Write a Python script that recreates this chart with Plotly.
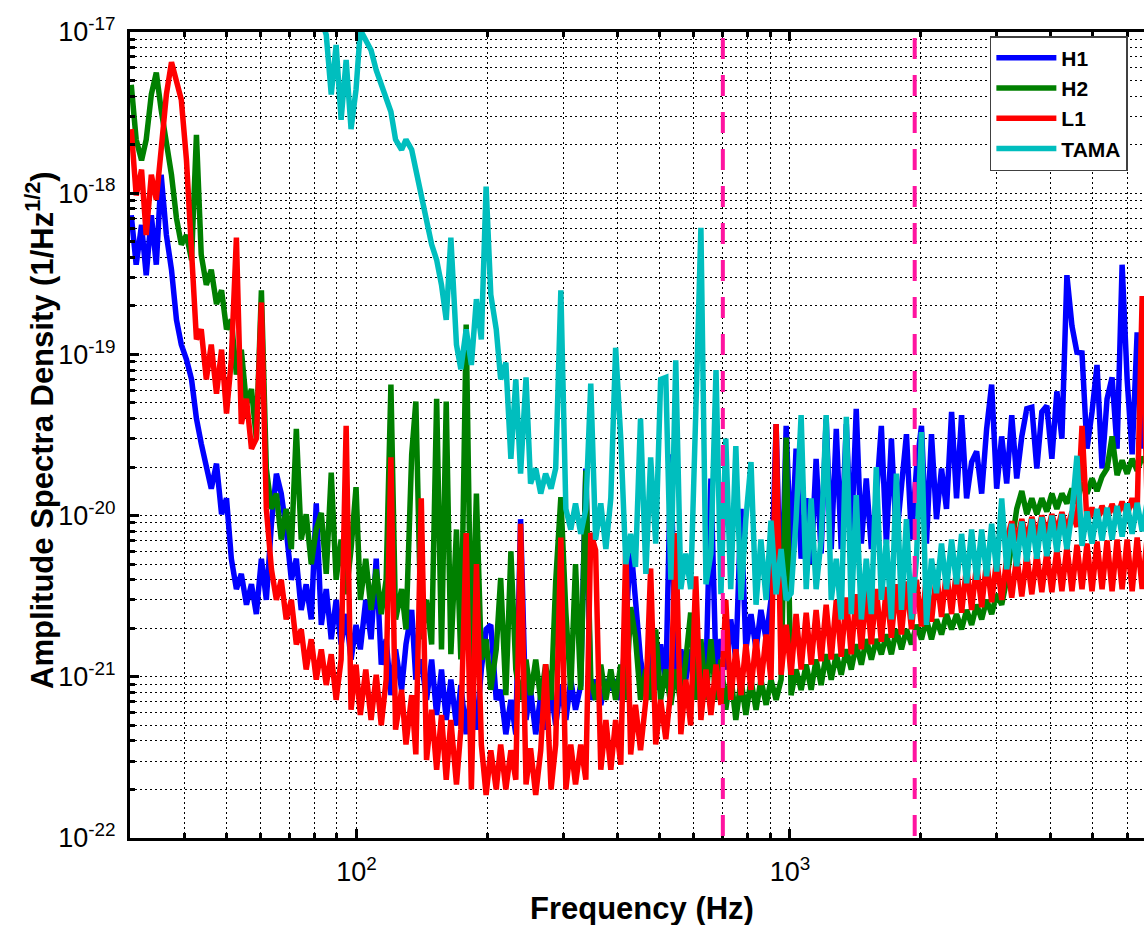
import numpy as np
import plotly.graph_objects as go

# ---------------- data ----------------
freq_hz = [
    30.2, 31.0, 31.9, 32.7, 33.6, 34.5, 35.4, 36.4, 37.4, 38.4,
    39.4, 40.5, 41.6, 42.7, 43.8, 45.0, 46.2, 47.5, 48.8, 50.1,
    51.4, 52.8, 54.2, 55.7, 57.2, 58.7, 60.3, 61.9, 63.6, 65.3,
    67.0, 68.8, 70.7, 72.6, 74.5, 76.5, 78.6, 80.7, 82.9, 85.1,
    87.4, 89.7, 92.1, 94.6, 97.1, 99.7, 102, 105, 108, 111,
    114, 117, 120, 123, 127, 130, 134, 137, 141, 145,
    149, 153, 157, 161, 165, 170, 174, 179, 184, 189,
    194, 199, 204, 210, 215, 221, 227, 233, 239, 246,
    252, 259, 266, 273, 281, 288, 296, 304, 312, 320,
    329, 338, 347, 356, 366, 376, 386, 396, 407, 418,
    429, 440, 452, 465, 477, 490, 503, 517, 531, 545,
    560, 575, 590, 606, 623, 640, 657, 675, 693, 711,
    730, 750, 771, 791, 813, 835, 857, 881, 904, 929,
    954, 980, 1006, 1033, 1061, 1090, 1119, 1149, 1180, 1212,
    1245, 1279, 1313, 1349, 1385, 1422, 1461, 1500, 1541, 1582,
    1625, 1669, 1714, 1760, 1808, 1857, 1907, 1958, 2011, 2065,
    2121, 2178, 2237, 2297, 2360, 2423, 2489, 2556, 2625, 2696,
    2769, 2843, 2920, 2999, 3080, 3163, 3249, 3336, 3427, 3519,
    3615, 3712, 3812, 3915, 4021, 4129, 4241, 4355, 4474, 4594,
    4719, 4846, 4977, 5111, 5250, 5391, 5537, 5686, 5840, 5998,
    6160, 6326, 6497, 6672,
]

h1_asd = [
    7.3e-19, 3.6e-19, 6.35e-19, 3.1e-19, 7.3e-19, 3.6e-19, 1.3e-18, 5.5e-19, 3.35e-19, 1.64e-19,
    1.15e-19, 9.3e-20, 7.0e-20, 4.0e-20, 2.8e-20, 1.96e-20, 1.47e-20, 2.1e-20, 1.02e-20, 1.28e-20,
    5.4e-21, 3.5e-21, 4.35e-21, 2.8e-21, 3.75e-21, 2.45e-21, 5.4e-21, 3.0e-21, 8.9e-21, 1.82e-20,
    1.37e-20, 8.2e-21, 4.0e-21, 5.4e-21, 2.6e-21, 3.75e-21, 2.27e-21, 1.19e-20, 2.1e-21, 3.5e-21,
    1.71e-21, 3.0e-21, 1.59e-21, 2.45e-21, 1.28e-21, 2.1e-21, 1.48e-21, 3.0e-21, 1.71e-21, 5.4e-21,
    1.19e-21, 1.71e-21, 7.7e-22, 1.48e-21, 8.3e-22, 1.59e-21, 2.6e-21, 9.6e-22, 1.28e-21, 7.2e-22,
    1.28e-21, 5.8e-22, 1.11e-21, 5.4e-22, 9.6e-22, 5.0e-22, 8.9e-22, 4.4e-22, 8.3e-22, 4.7e-22,
    1.11e-21, 1.97e-21, 2.1e-21, 7.2e-22, 8.3e-22, 4.4e-22, 7.2e-22, 4.4e-22, 9.5e-21, 5.4e-22,
    8.3e-22, 4.4e-22, 7.7e-22, 4.7e-22, 8.3e-22, 5.0e-22, 8.9e-22, 5.4e-22, 9.6e-22, 6.25e-22,
    8.9e-22, 1.96e-20, 7.2e-22, 9.6e-22, 6.7e-22, 9.6e-22, 8.3e-22, 9.6e-22, 7.2e-22, 1.97e-21,
    6.7e-21, 3.0e-21, 1.28e-21, 8.3e-22, 1.48e-21, 8.3e-22, 1.59e-21, 8.9e-22, 2.4e-20, 9.6e-22,
    1.48e-21, 9.6e-22, 1.48e-21, 9.6e-22, 1.48e-21, 1.03e-21, 1.7e-20, 1.11e-21, 1.71e-21, 1.11e-21,
    2.27e-21, 1.28e-21, 1.1e-20, 1.48e-21, 2.45e-21, 1.48e-21, 2.6e-21, 1.71e-21, 3.0e-21, 3.7e-20,
    2.27e-21, 3.6e-20, 5.4e-21, 2.6e-20, 5.4e-21, 1.28e-20, 5.0e-21, 2.25e-20, 5.8e-21, 4.0e-20,
    6.2e-21, 3.45e-20, 6.2e-21, 3.7e-20, 6.7e-21, 4.6e-20, 6.7e-21, 1.7e-20, 6.2e-21, 1.28e-20,
    3.6e-20, 6.7e-21, 3.0e-20, 7.1e-21, 1.7e-20, 3.2e-20, 7.1e-21, 1.96e-20, 3.6e-20, 6.7e-21,
    3.2e-20, 9.5e-21, 1.96e-20, 1.1e-20, 4.4e-20, 1.28e-20, 4.2e-20, 1.28e-20, 2.15e-20, 2.5e-20,
    1.37e-20, 3.45e-20, 6.5e-20, 1.47e-20, 3.1e-20, 1.58e-20, 4.2e-20, 1.7e-20, 3.1e-20, 4.6e-20,
    4.7e-20, 1.96e-20, 4.4e-20, 4.8e-20, 2.25e-20, 5.9e-20, 3.0e-20, 3.1e-19, 1.5e-19, 1.03e-19,
    1.02e-19, 2.6e-20, 4.4e-20, 8.6e-20, 1.96e-20, 5.3e-20, 7.2e-20, 2.6e-20, 3.6e-19, 7.0e-20,
    2.4e-20, 1.37e-19, 2.6e-20, 1.12e-19,
]

h2_asd = [
    4.7e-18, 2.15e-18, 1.6e-18, 2.15e-18, 4.1e-18, 5.6e-18, 3.3e-18, 2.15e-18, 1.3e-18, 7.0e-19,
    4.8e-19, 5.5e-19, 3.86e-19, 2.3e-18, 4.15e-19, 2.7e-19, 3.35e-19, 2.05e-19, 2.5e-19, 1.43e-19,
    1.64e-19, 7.5e-20, 1.07e-19, 4.9e-20, 6.1e-20, 3.0e-20, 2.5e-19, 1.96e-20, 1.1e-20, 1.37e-20,
    7.1e-21, 1.1e-20, 6.2e-21, 3.45e-20, 7.1e-21, 1.02e-20, 5.0e-21, 8.2e-21, 1.04e-20, 4.35e-21,
    1.85e-20, 4.0e-21, 7.1e-21, 3.25e-21, 6.2e-21, 1.5e-20, 3.0e-21, 5.4e-21, 2.6e-21, 4.65e-21,
    2.45e-21, 4.0e-21, 6.5e-20, 2.27e-21, 3.5e-21, 1.97e-21, 2.4e-20, 5.1e-20, 1.71e-21, 3.0e-21,
    1.59e-21, 5.3e-20, 1.48e-21, 5.1e-20, 1.38e-21, 8.2e-21, 1.28e-21, 1.53e-19, 1.19e-21, 1.37e-20,
    1.28e-21, 1.71e-21, 8.3e-22, 1.48e-21, 4.1e-21, 7.7e-22, 6.0e-21, 1.11e-21, 7.2e-22, 1.28e-21,
    7.7e-22, 1.28e-21, 7.2e-22, 1.19e-21, 7.2e-22, 3.9e-21, 1.3e-20, 2.5e-21, 8.3e-22, 5.0e-21,
    8.3e-22, 1.9e-20, 9.6e-22, 7.2e-22, 1.19e-21, 7.2e-22, 1.11e-21, 7.2e-22, 1.19e-21, 7.2e-22,
    2.7e-21, 1.75e-21, 7.2e-22, 1.11e-21, 7.2e-22, 1.97e-21, 7.2e-22, 1.11e-21, 6.7e-22, 1.11e-21,
    6.7e-22, 1.28e-21, 2.5e-21, 7.2e-22, 1.71e-21, 7.2e-22, 1.71e-21, 7.2e-22, 1.28e-21, 6.25e-22,
    1.03e-21, 5.4e-22, 9.6e-22, 5.8e-22, 9.6e-22, 6.25e-22, 9.6e-22, 6.7e-22, 9.6e-22, 7.2e-22,
    9.6e-22, 3.05e-20, 7.7e-22, 1.11e-21, 8.3e-22, 1.19e-21, 8.3e-22, 1.28e-21, 8.9e-22, 1.38e-21,
    9.6e-22, 1.38e-21, 1.03e-21, 1.48e-21, 1.11e-21, 1.59e-21, 1.19e-21, 1.71e-21, 1.28e-21, 1.71e-21,
    1.38e-21, 1.83e-21, 1.38e-21, 1.97e-21, 1.48e-21, 1.97e-21, 1.59e-21, 2.1e-21, 1.71e-21, 2.27e-21,
    1.71e-21, 2.27e-21, 1.83e-21, 2.45e-21, 1.97e-21, 2.45e-21, 1.97e-21, 2.6e-21, 2.1e-21, 2.8e-21,
    2.27e-21, 3.0e-21, 2.45e-21, 3.25e-21, 2.8e-21, 4.0e-21, 7.1e-21, 1.1e-20, 1.42e-20, 1.02e-20,
    1.28e-20, 1.02e-20, 1.28e-20, 1.06e-20, 1.37e-20, 1.1e-20, 1.37e-20, 1.19e-20, 1.47e-20, 1.19e-20,
    1.6e-20, 1.37e-20, 1.7e-20, 1.42e-20, 1.75e-20, 1.96e-20, 3.1e-20, 1.78e-20, 2.2e-20, 1.82e-20,
    2.25e-20, 1.9e-20, 2.3e-20, 2.1e-20,
]

l1_asd = [
    2.5e-18, 9.7e-19, 1.4e-18, 5.5e-19, 1.3e-18, 9.1e-19, 1.86e-18, 4.1e-18, 6.5e-18, 5.0e-18,
    3.8e-18, 1.6e-18, 5.1e-19, 1.24e-19, 1.43e-19, 7.0e-20, 1.15e-19, 5.7e-20, 1.07e-19, 4.3e-20,
    9.3e-20, 5.3e-19, 3.7e-20, 5.3e-20, 2.6e-20, 3.0e-20, 2.1e-19, 1.1e-20, 4.65e-21, 3.0e-21,
    4.0e-21, 2.27e-21, 3.0e-21, 1.59e-21, 1.97e-21, 1.11e-21, 1.71e-21, 9.6e-22, 1.48e-21, 8.9e-22,
    1.38e-21, 7.2e-22, 1.28e-21, 3.6e-20, 6.25e-22, 1.19e-21, 5.8e-22, 1.11e-21, 5.4e-22, 1.03e-21,
    5.0e-22, 9.6e-22, 2.3e-20, 4.7e-22, 8.3e-22, 3.8e-22, 7.7e-22, 3.3e-22, 1.28e-20, 3.05e-22,
    6.25e-22, 2.65e-22, 5.8e-22, 2.3e-22, 5.4e-22, 2.15e-22, 4.7e-22, 7.8e-21, 2.0e-22, 5.0e-21,
    3.8e-22, 1.85e-22, 3.5e-22, 2.0e-22, 3.8e-22, 2.0e-22, 3.5e-22, 2.3e-22, 8.9e-21, 2.15e-22,
    3.6e-22, 1.85e-22, 3.5e-22, 1.2e-21, 2.0e-22, 3.8e-22, 7.3e-21, 2.0e-22, 3.8e-22, 2.15e-22,
    3.8e-22, 2.3e-22, 7.8e-21, 6.1e-21, 2.65e-22, 5.4e-22, 2.65e-22, 5.4e-22, 2.85e-22, 6.5e-21,
    3.3e-22, 6.7e-22, 3.5e-22, 7.2e-22, 4.7e-21, 3.8e-22, 7.2e-22, 4.1e-22, 8.3e-22, 7.8e-21,
    4.4e-22, 9.6e-22, 5.0e-22, 4.2e-21, 5.4e-22, 1.11e-21, 5.8e-22, 1.19e-21, 6.7e-22, 3.0e-21,
    7.2e-22, 1.48e-21, 7.7e-22, 1.59e-21, 8.3e-22, 1.71e-21, 8.9e-22, 1.83e-21, 9.6e-22, 3.7e-20,
    1.03e-21, 2.1e-21, 1.03e-21, 2.45e-21, 1.11e-21, 2.5e-21, 1.19e-21, 2.6e-21, 1.25e-21, 2.8e-21,
    1.28e-21, 3.0e-21, 1.33e-21, 3.1e-21, 1.38e-21, 3.25e-21, 1.48e-21, 3.4e-21, 1.59e-21, 3.5e-21,
    1.65e-21, 3.6e-21, 1.75e-21, 3.75e-21, 1.83e-21, 3.9e-21, 1.97e-21, 4.0e-21, 2.05e-21, 4.2e-21,
    2.2e-21, 4.35e-21, 2.35e-21, 4.5e-21, 2.45e-21, 4.65e-21, 2.5e-21, 4.85e-21, 2.6e-21, 5.0e-21,
    2.7e-21, 5.2e-21, 2.9e-21, 5.4e-21, 3.0e-21, 5.4e-21, 3.1e-21, 5.6e-21, 3.15e-21, 5.7e-21,
    3.25e-21, 5.8e-21, 3.35e-21, 5.95e-21, 3.35e-21, 6.2e-21, 3.4e-21, 6.4e-21, 3.4e-21, 6.6e-21,
    3.5e-21, 6.7e-21, 3.4e-21, 6.9e-21, 3.5e-21, 7.0e-21, 3.4e-21, 7.1e-21, 3.5e-21, 7.1e-21,
    3.4e-21, 7.3e-21, 3.5e-21, 7.4e-21,
]

# second (upper) L1 band seen above ~3.2 kHz; aligned with the last points of freq_hz
l1_hf_asd = [
    7.1e-21, 9.2e-21, 6.9e-21, 9.5e-21, 7.1e-21, 9.8e-21, 7.4e-21, 1.0e-20, 7.7e-21, 1.02e-20,
    8.0e-21, 1.05e-20, 8.2e-21, 1.06e-20, 8.5e-21, 3.6e-20, 8.9e-21, 1.12e-20, 9.2e-21, 1.15e-20,
    9.5e-21, 1.18e-20, 9.8e-21, 1.22e-20, 1.0e-20, 1.28e-20, 1.04e-20, 2.3e-19, 1.1e-20,
]

# TAMA starts near 83 Hz; aligned with the last points of freq_hz
tama_asd = [
    1.2e-17, 9.6e-18, 4.1e-18, 8.3e-18, 2.85e-18, 6.7e-18, 2.5e-18, 4.4e-18, 1.03e-17, 8.9e-18,
    7.7e-18, 5.8e-18, 4.7e-18, 3.8e-18, 3.2e-18, 2.15e-18, 1.86e-18, 2.15e-18, 1.86e-18, 1.4e-18,
    9.7e-19, 7.3e-19, 4.8e-19, 3.86e-19, 2.7e-19, 1.64e-19, 5.3e-19, 1.15e-19, 8.1e-20, 1.43e-19,
    8.6e-20, 2.2e-19, 1.24e-19, 1.1e-18, 2.35e-19, 1.43e-19, 7.0e-20, 8.9e-20, 2.25e-20, 7.0e-20,
    1.82e-20, 7.2e-20, 1.58e-20, 1.96e-20, 1.37e-20, 1.82e-20, 1.47e-20, 1.96e-20, 2.5e-19, 1.1e-20,
    8.2e-21, 1.19e-20, 7.7e-21, 1.1e-20, 6.6e-20, 7.1e-21, 1.19e-20, 6.2e-21, 1.28e-20, 1.1e-19,
    3.0e-20, 5.0e-21, 7.7e-21, 4.8e-21, 4.0e-20, 4.35e-21, 2.3e-20, 6.7e-21, 7.0e-20, 7.2e-20,
    4.0e-21, 9.2e-20, 3.5e-21, 5.8e-21, 3.5e-21, 4.2e-20, 6.1e-19, 3.75e-21, 5.8e-21, 8.0e-20,
    3.25e-21, 3.0e-20, 3.5e-21, 2.7e-20, 3.0e-21, 9.5e-21, 2.15e-20, 2.8e-21, 7.1e-21, 3.0e-21,
    9.3e-21, 3.25e-21, 6.2e-21, 3.0e-21, 3.3e-21, 9.5e-21, 4.2e-20, 3.5e-21, 1.28e-20, 3.5e-21,
    7.1e-21, 4.2e-20, 3.0e-21, 5.4e-21, 2.27e-21, 4.1e-20, 2.45e-21, 1.34e-20, 2.27e-21, 5.4e-21,
    2.45e-21, 2.0e-20, 3.0e-21, 7.1e-21, 2.27e-21, 1.82e-20, 2.6e-21, 9.5e-21, 2.27e-21, 5.4e-21,
    3.3e-20, 2.1e-21, 5.4e-21, 3.3e-21, 6.7e-21, 3.5e-21, 7.1e-21, 3.75e-21, 7.7e-21, 3.8e-21,
    8.2e-21, 4.0e-21, 8.2e-21, 4.2e-21, 8.9e-21, 4.5e-21, 1.28e-20, 4.65e-21, 8.9e-21, 4.85e-21,
    9.2e-21, 5.2e-21, 9.5e-21, 5.4e-21, 9.8e-21, 5.6e-21, 1.0e-20, 5.95e-21, 1.02e-20, 6.2e-21,
    1.05e-20, 2.35e-20, 6.5e-21, 1.06e-20, 6.7e-21, 1.1e-20, 7.0e-21, 1.12e-20, 7.1e-21, 1.15e-20,
    7.4e-21, 1.19e-20, 7.7e-21, 1.2e-20, 8.0e-21, 1.22e-20,
]

series_names = ["H1", "H2", "L1", "TAMA"]
series_colors = ["rgb(0,0,255)", "rgb(0,128,0)", "rgb(255,0,0)", "rgb(0,190,190)"]
band_edges_hz = [700, 1940]

x_major_ticks = [100, 1000]
x_major_text = ["10<sup>2</sup>", "10<sup>3</sup>"]
x_minor_ticks = [30, 40, 50, 60, 70, 80, 90, 200, 300, 400, 500, 600, 700, 800, 900,
                 2000, 3000, 4000, 5000, 6000]
y_major_ticks = [1e-22, 1e-21, 1e-20, 1e-19, 1e-18, 1e-17]
y_major_text = ["10<sup>-22</sup>", "10<sup>-21</sup>", "10<sup>-20</sup>",
                "10<sup>-19</sup>", "10<sup>-18</sup>", "10<sup>-17</sup>"]
y_minor_ticks = [k * 10.0 ** e for e in range(-22, -17) for k in range(2, 10)]

x_range_hz = [30, 6560]
y_range = [1e-22, 1e-17]

# ---------------- figure ----------------
FONT = "Liberation Sans, Arial, Helvetica, sans-serif"
LW = 5.5

fig = go.Figure()
fig.add_trace(go.Scatter(x=freq_hz, y=h1_asd, mode="lines", name=series_names[0],
                         line=dict(color=series_colors[0], width=LW)))
fig.add_trace(go.Scatter(x=freq_hz, y=h2_asd, mode="lines", name=series_names[1],
                         line=dict(color=series_colors[1], width=LW)))
fig.add_trace(go.Scatter(x=freq_hz, y=l1_asd, mode="lines", name=series_names[2],
                         legendgroup="L1", line=dict(color=series_colors[2], width=LW)))
fig.add_trace(go.Scatter(x=freq_hz[len(freq_hz) - len(l1_hf_asd):], y=l1_hf_asd, mode="lines",
                         name=series_names[2], legendgroup="L1", showlegend=False,
                         line=dict(color=series_colors[2], width=LW)))
fig.add_trace(go.Scatter(x=freq_hz[len(freq_hz) - len(tama_asd):], y=tama_asd, mode="lines",
                         name=series_names[3], line=dict(color=series_colors[3], width=LW)))

grid_dash = "2px,3px"
common_axis = dict(
    showline=True, linewidth=3, linecolor="black",
    ticks="inside", ticklen=9, tickwidth=3, tickcolor="black",
    showgrid=True, gridcolor="black", gridwidth=1, griddash=grid_dash,
    zeroline=False,
    tickfont=dict(family=FONT, size=27, color="black"),
)

fig.update_xaxes(
    type="log", range=[np.log10(x_range_hz[0]), np.log10(x_range_hz[1])],
    tickmode="array", tickvals=x_major_ticks, ticktext=x_major_text,
    mirror="allticks", ticklabelstandoff=8,
    minor=dict(tickmode="array", tickvals=x_minor_ticks, ticks="inside", ticklen=5,
               tickwidth=3, tickcolor="black", showgrid=True, gridcolor="black",
               gridwidth=1, griddash=grid_dash),
    **common_axis,
)
fig.update_yaxes(
    type="log", range=[np.log10(y_range[0]), np.log10(y_range[1])],
    tickmode="array", tickvals=y_major_ticks, ticktext=y_major_text,
    mirror=False, ticklabelstandoff=6,
    minor=dict(tickmode="array", tickvals=y_minor_ticks, ticks="inside", ticklen=5,
               tickwidth=3, tickcolor="black", showgrid=True, gridcolor="black",
               gridwidth=1, griddash=grid_dash),
    **common_axis,
)

for f_edge in band_edges_hz:
    fig.add_shape(type="line", xref="x", yref="paper", x0=f_edge, x1=f_edge,
                  y0=1 - 6 / 806, y1=0, layer="above",
                  line=dict(color="rgb(255,20,160)", width=4, dash="21px,16px"))

fig.add_annotation(text="<b>Frequency (Hz)</b>", xref="paper", yref="paper",
                   x=0.5, y=0, xanchor="center", yanchor="middle", xshift=5, yshift=-70,
                   showarrow=False, font=dict(family=FONT, size=31, color="black"))
fig.add_annotation(text="<b>Amplitude Spectra Density (1/Hz<sup>1/2</sup>)</b>",
                   xref="paper", yref="paper", x=0, y=0.5, xanchor="center",
                   yanchor="middle", xshift=-90, yshift=5, textangle=-90,
                   showarrow=False, font=dict(family=FONT, size=31, color="black"))

fig.update_layout(
    width=1144, height=925,
    margin=dict(l=130, r=0, t=32, b=87, pad=0, autoexpand=False),
    paper_bgcolor="white", plot_bgcolor="white",
    showlegend=True,
    legend=dict(x=0.848, y=0.995, xanchor="left", yanchor="top",
                bgcolor="white", bordercolor="#404040", borderwidth=1.5,
                font=dict(family=FONT, size=21, color="black", weight="bold"),
                itemwidth=60, tracegroupgap=0, traceorder="normal",
                entrywidth=150, entrywidthmode="pixels"),
    font=dict(family=FONT, color="black"),
)

fig.write_html(
    "out.html", include_plotlyjs=True, config={"displayModeBar": False},
    post_script="document.documentElement.style.margin='0';"
                "document.body.style.margin='0';document.body.style.padding='0';",
)
